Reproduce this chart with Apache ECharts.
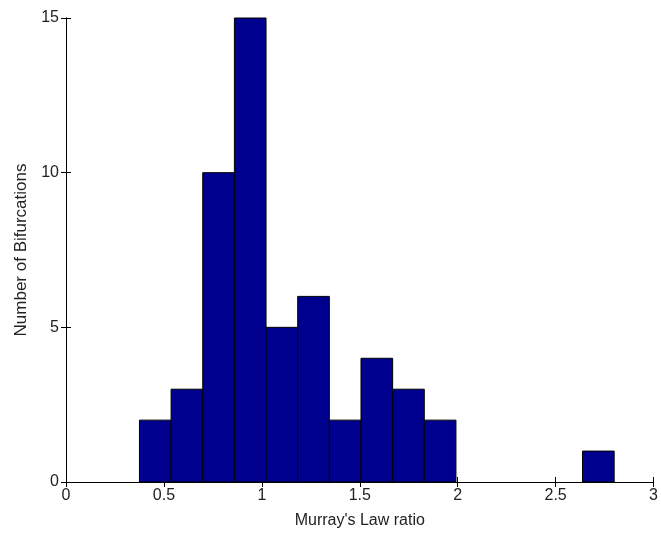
<!DOCTYPE html>
<html>
<head>
<meta charset="utf-8">
<script src="https://cdn.jsdelivr.net/npm/echarts@6/dist/echarts.min.js"></script>
<style>
  html, body { margin: 0; padding: 0; background: #fff; }
  #chart { width: 661px; height: 534px; }
</style>
</head>
<body>
<div id="chart"></div>
<script>
// Histogram of Murray's Law ratios: 15 equal-width bins
const binStart = 0.375;
const binWidth = 0.1616;
const counts = [2, 3, 10, 15, 5, 6, 2, 4, 3, 2, 0, 0, 0, 0, 1];
const xTicks = [0, 0.5, 1, 1.5, 2, 2.5, 3];
const yTicks = [0, 5, 10, 15];

const bins = counts.map((c, i) => [binStart + i * binWidth, binStart + (i + 1) * binWidth, c]);

const font = 'Liberation Sans, Arial, sans-serif';
const chart = echarts.init(document.getElementById('chart'));

const axisLine = { show: true, lineStyle: { color: '#000', width: 1 } };
const tickIn = { show: true, inside: true, length: 5, lineStyle: { color: '#000' } };

chart.setOption({
  animation: false,
  grid: { left: 66, right: 3, top: 18, bottom: 50 },
  xAxis: [
    {
      type: 'value', min: 0, max: 3, interval: 0.5,
      axisLine, axisTick: tickIn, splitLine: { show: false },
      axisLabel: {
        color: '#222', fontFamily: font, fontSize: 16, margin: 6,
        formatter: v => String(v)
      },
      name: "Murray's Law ratio", nameLocation: 'middle', nameGap: 31,
      nameTextStyle: { color: '#222', fontFamily: font, fontSize: 16 }
    },
    {
      type: 'value', position: 'top', min: 0, max: 3, interval: 0.5,
      axisLine, axisTick: tickIn, axisLabel: { show: false }, splitLine: { show: false }
    }
  ],
  yAxis: [
    {
      type: 'value', min: 0, max: 15, interval: 5,
      axisLine, axisTick: tickIn, splitLine: { show: false },
      axisLabel: { color: '#222', fontFamily: font, fontSize: 16, margin: 7 },
      name: 'Number of Bifurcations', nameLocation: 'middle', nameGap: 33,
      nameTextStyle: { color: '#222', fontFamily: font, fontSize: 17 }
    },
    {
      type: 'value', position: 'right', min: 0, max: 15, interval: 5,
      axisLine, axisTick: tickIn, axisLabel: { show: false }, splitLine: { show: false }
    }
  ],
  series: [{
    type: 'custom',
    data: bins,
    encode: { x: [0, 1], y: 2 },
    renderItem: function (params, api) {
      const h = api.value(2);
      if (!h) return null;
      const p0 = api.coord([api.value(0), 0]);
      const p1 = api.coord([api.value(1), h]);
      return {
        type: 'rect',
        shape: { x: p0[0], y: p1[1], width: p1[0] - p0[0], height: p0[1] - p1[1] },
        style: { fill: '#00008F', stroke: '#000', lineWidth: 1 }
      };
    }
  }]
});
</script>
</body>
</html>
